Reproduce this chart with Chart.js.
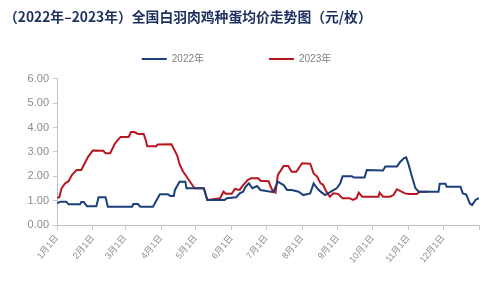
<!DOCTYPE html>
<html>
<head>
<meta charset="utf-8">
<script src="https://cdn.jsdelivr.net/npm/chart.js@4"></script>
<style>
  html, body { margin: 0; padding: 0; background: #ffffff; }
  #wrap { width: 499px; height: 282px; position: relative; }
</style>
</head>
<body>
<div id="wrap"><canvas id="c" width="499" height="282"></canvas></div>
<script>
// ---- data (day-of-year, value) ----
const TITLE = '（2022年–2023年）全国白羽肉鸡种蛋均价走势图（元/枚）';
const SERIES_NAMES = ['2022年', '2023年'];
const MONTH_TICK_DAYS = [0, 31, 59, 90, 120, 151, 181, 212, 243, 273, 304, 334, 365];
const MONTH_LABELS = ['1月1日', '2月1日', '3月1日', '4月1日', '5月1日', '6月1日', '7月1日', '8月1日', '9月1日', '10月1日', '11月1日', '12月1日', ''];

const days2022 = [0, 3, 8, 10, 20, 21, 23, 26, 34, 36, 42, 44, 65, 66, 70, 72, 83, 89, 96, 98, 101, 102, 106, 111, 112, 127, 130, 145, 147, 155, 158, 161, 163, 166, 169, 173, 176, 187, 191, 196, 199, 203, 209, 213, 219, 222, 225, 228, 232, 238, 242, 245, 247, 255, 257, 266, 268, 282, 284, 294, 297, 300, 302, 304, 307, 310, 313, 330, 331, 336, 337, 349, 351, 354, 357, 359, 362, 365];
const values2022 = [0.89, 0.96, 0.96, 0.85, 0.85, 0.94, 0.94, 0.77, 0.77, 1.14, 1.14, 0.75, 0.75, 0.86, 0.86, 0.75, 0.75, 1.26, 1.26, 1.19, 1.19, 1.44, 1.78, 1.78, 1.51, 1.51, 1.03, 1.03, 1.10, 1.14, 1.30, 1.37, 1.57, 1.71, 1.51, 1.60, 1.44, 1.35, 1.78, 1.64, 1.44, 1.44, 1.37, 1.23, 1.30, 1.71, 1.51, 1.37, 1.23, 1.40, 1.51, 1.71, 2.00, 2.00, 1.95, 1.95, 2.26, 2.24, 2.40, 2.40, 2.60, 2.74, 2.78, 2.50, 1.99, 1.51, 1.37, 1.37, 1.69, 1.69, 1.57, 1.57, 1.30, 1.25, 0.89, 0.82, 1.03, 1.10];

const days2023 = [0, 2, 4, 7, 10, 13, 17, 21, 27, 31, 40, 42, 46, 50, 53, 55, 62, 64, 67, 70, 75, 77, 78, 86, 87, 99, 104, 106, 109, 112, 114, 119, 127, 130, 138, 141, 144, 146, 151, 154, 158, 161, 165, 168, 174, 176, 183, 186, 189, 191, 196, 200, 203, 207, 212, 219, 222, 225, 228, 230, 233, 236, 239, 243, 247, 253, 256, 259, 261, 264, 278, 279, 282, 288, 291, 294, 298, 301, 304, 311, 314, 321];
const values2023 = [1.12, 1.14, 1.51, 1.71, 1.80, 2.06, 2.26, 2.26, 2.81, 3.06, 3.05, 2.95, 2.95, 3.34, 3.52, 3.62, 3.62, 3.82, 3.82, 3.74, 3.74, 3.45, 3.24, 3.24, 3.31, 3.32, 2.85, 2.50, 2.20, 1.99, 1.85, 1.51, 1.51, 1.03, 1.08, 1.10, 1.37, 1.28, 1.28, 1.48, 1.44, 1.64, 1.85, 1.92, 1.92, 1.82, 1.80, 1.44, 1.33, 2.06, 2.42, 2.42, 2.19, 2.19, 2.54, 2.52, 2.12, 1.99, 1.71, 1.66, 1.37, 1.16, 1.30, 1.28, 1.10, 1.10, 1.03, 1.10, 1.33, 1.16, 1.16, 1.33, 1.16, 1.16, 1.23, 1.47, 1.37, 1.30, 1.27, 1.27, 1.37, 1.37];

const COLOR_2022 = '#1c3f7c';
const COLOR_2023 = '#b8171f';

function toPoints(xs, ys) { return xs.map((d, i) => ({ x: d, y: ys[i] })); }

// place the legend row (its label padding is also the gap between the two items)
const legendPlace = {
  id: 'legendPlace',
  afterLayout(chart) {
    const lg = chart.legend;
    if (!lg) return;
    lg.top = -11; lg.bottom = 80; lg.height = 91;
    lg.left -= 5; lg.right -= 5;
  }
};

new Chart(document.getElementById('c'), {
  type: 'line',
  data: {
    datasets: [
      { label: SERIES_NAMES[0], data: toPoints(days2022, values2022), borderColor: COLOR_2022, backgroundColor: COLOR_2022, borderWidth: 2, pointRadius: 0, tension: 0, fill: false },
      { label: SERIES_NAMES[1], data: toPoints(days2023, values2023), borderColor: COLOR_2023, backgroundColor: COLOR_2023, borderWidth: 2, pointRadius: 0, tension: 0, fill: false }
    ]
  },
  options: {
    responsive: false,
    animation: false,
    layout: { padding: { left: 4, right: 20, top: 0, bottom: 0 } },
    plugins: {
      title: {
        display: true, text: TITLE, align: 'start', color: '#1c2f5e',
        font: { family: '"Noto Sans CJK SC", sans-serif', size: 13.8, weight: 'bold', lineHeight: 1.2 },
        padding: { top: 8, bottom: 34.4 }
      },
      legend: {
        display: true, position: 'top', align: 'center', maxHeight: 20,
        labels: {
          usePointStyle: true, pointStyle: 'line', pointStyleWidth: 25, boxWidth: 25, boxHeight: 10,
          padding: 65, color: '#7f7f7f',
          font: { family: '"Liberation Sans", "Noto Sans CJK SC", sans-serif', size: 10 }
        }
      },
      tooltip: { enabled: false }
    },
    scales: {
      x: {
        type: 'linear', min: 0, max: 365,
        afterBuildTicks(scale) { scale.ticks = MONTH_TICK_DAYS.map(v => ({ value: v })); },
        afterFit(scale) { scale.height = 57; },
        grid: { display: true, drawOnChartArea: false, drawTicks: true, tickLength: 5, color: '#c8c8c8' },
        border: { display: true, color: '#c0c0c0', width: 1 },
        ticks: {
          autoSkip: false, minRotation: 50, maxRotation: 50, padding: 3, color: '#8c8c8c',
          font: { family: '"Liberation Sans", "Noto Sans CJK SC", sans-serif', size: 9 },
          callback(value) { const i = MONTH_TICK_DAYS.indexOf(value); return i >= 0 ? MONTH_LABELS[i] : ''; }
        }
      },
      y: {
        min: 0, max: 6,
        afterFit(scale) { scale.width = 53; },
        grid: { display: true, drawOnChartArea: false, drawTicks: true, tickLength: 4, color: '#c8c8c8' },
        border: { display: true, color: '#c0c0c0', width: 1 },
        ticks: {
          stepSize: 1, padding: 4, color: '#8c8c8c',
          font: { family: '"Liberation Sans", sans-serif', size: 11 },
          callback(v) { return Number(v).toFixed(2); }
        }
      }
    }
  },
  plugins: [legendPlace]
});
</script>
</body>
</html>
